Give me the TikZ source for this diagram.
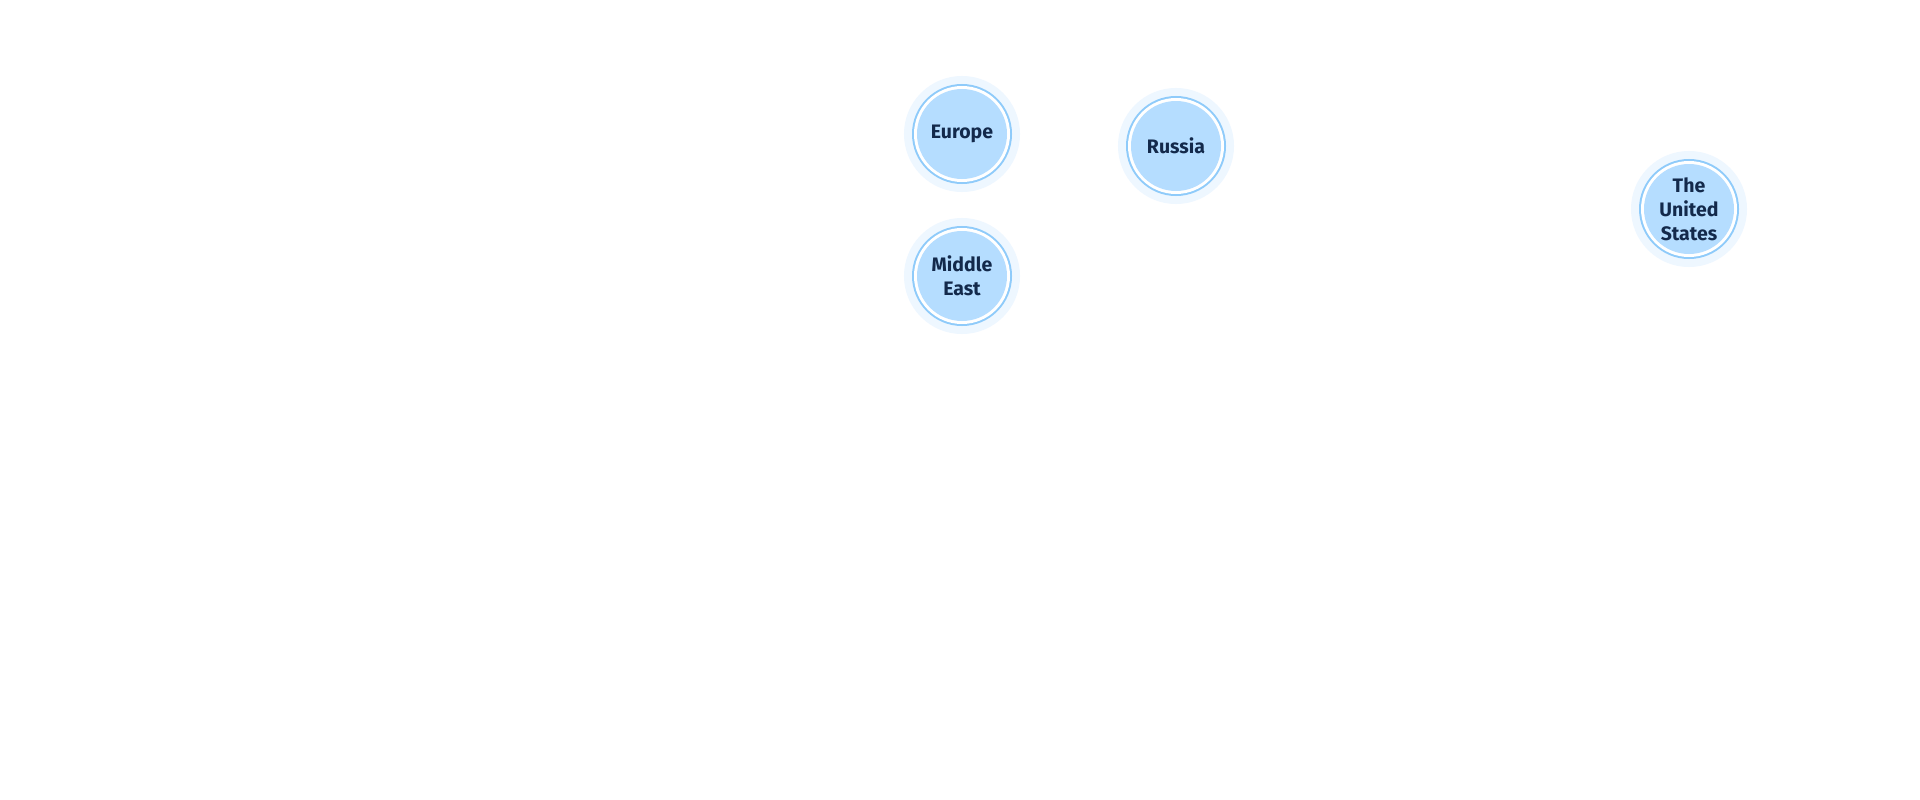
\documentclass[tikz,border=0pt]{standalone}
\usepackage{fontspec}
\setmainfont{Fira Sans}
\usepackage{xcolor}

\definecolor{halo}{HTML}{EEF7FF}
\definecolor{ringblue}{HTML}{8FCBFA}
\definecolor{regionfill}{HTML}{B5DDFF}
\definecolor{regiontext}{HTML}{13294B}

\begin{document}
\begin{tikzpicture}[x=1pt, y=-1pt,
  region/.style={circle, minimum size=90pt, inner sep=0pt, fill=regionfill,
    text=regiontext, align=center, font=\bfseries\fontsize{19.5}{24}\selectfont,
    preaction={draw=halo, line width=26pt},
    preaction={draw=ringblue, line width=10pt},
    preaction={draw=white, line width=6pt}}]

\useasboundingbox[fill=white] (0,0) rectangle (1920,800);

% Regions
\node[region] (europe) at (962,134) {Europe};
\node[region] (russia) at (1176,146) {Russia};
\node[region] (mideast) at (962,276) {Middle\\East};
\node[region] (usa) at (1689,209) {The\\United\\States};

\end{tikzpicture}
\end{document}
